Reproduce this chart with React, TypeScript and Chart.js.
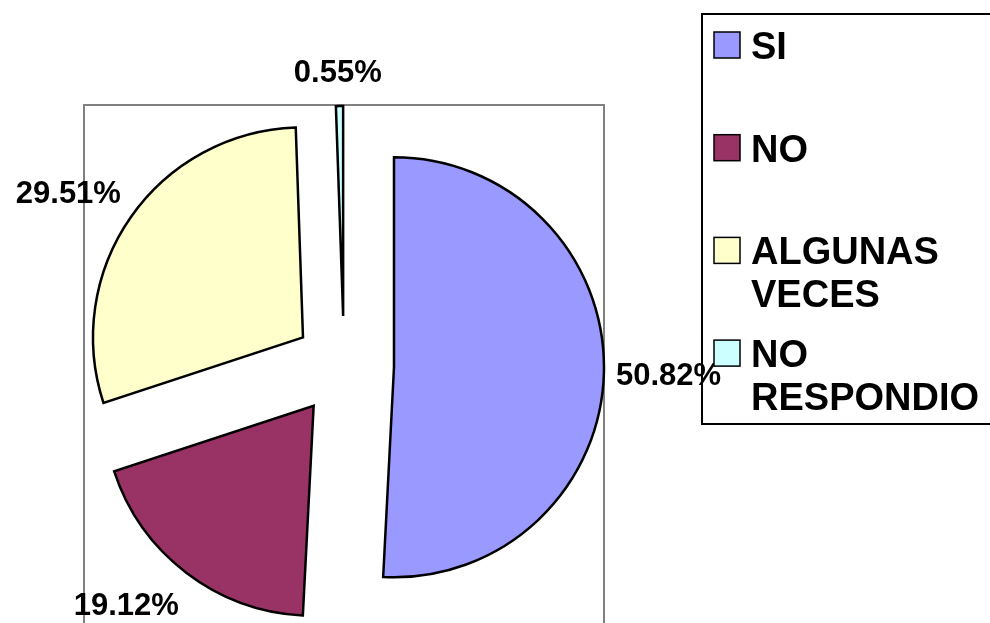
import React, { useEffect, useRef } from "react";
import { Chart, registerables } from "chart.js";

Chart.register(...registerables);

const categories = ["SI", "NO", "ALGUNAS VECES", "NO RESPONDIO"];
const values = [50.82, 19.12, 29.51, 0.55];
const valueLabels = ["50.82%", "19.12%", "29.51%", "0.55%"];
const colors = ["#9999FF", "#993366", "#FFFFCC", "#CCFFFF"];

const FONT = '"Liberation Sans", Arial, sans-serif';
const EXPLODE = 50;

const decorPlugin = {
  id: "decor",
  beforeDatasetsDraw(chart: any) {
    const meta = chart.getDatasetMeta(0);
    const arc = meta.data[0];
    if (!arc) return;
    const ctx = chart.ctx;
    const cx = arc.x;
    const cy = arc.y;
    const half = arc.outerRadius + EXPLODE;
    ctx.save();
    ctx.strokeStyle = "#808080";
    ctx.lineWidth = 2;
    ctx.strokeRect(cx - half, cy - half - 1, half * 2, half * 2 + 2);
    ctx.restore();
  },
  beforeDatasetDraw(chart: any, args: any) {
    const ctx = chart.ctx;
    args.meta.data.forEach((el: any) => {
      const mid = (el.startAngle + el.endAngle) / 2;
      ctx.save();
      ctx.translate(Math.cos(mid) * EXPLODE, Math.sin(mid) * EXPLODE);
      el.draw(ctx, chart.chartArea);
      ctx.restore();
    });
    return false;
  },
  afterDatasetsDraw(chart: any) {
    const meta = chart.getDatasetMeta(0);
    const ctx = chart.ctx;
    ctx.save();
    // value labels
    ctx.font = `bold 31px ${FONT}`;
    ctx.fillStyle = "#000";
    ctx.textAlign = "center";
    ctx.textBaseline = "middle";
    meta.data.forEach((el: any, i: number) => {
      const cx = el.x;
      const cy = el.y;
      const mid = (el.startAngle + el.endAngle) / 2;
      const dx = Math.cos(mid);
      const dy = Math.sin(mid);
      const text = valueLabels[i];
      const w = ctx.measureText(text).width;
      const h = 22;
      const R = el.outerRadius + EXPLODE;
      const x = cx + dx * (R + 12) + Math.sign(dx) * (w / 2) * Math.min(1, Math.abs(dx) * 2);
      const y = cy + 3 + dy * (R + 25) + Math.sign(dy) * (h / 2) * Math.min(1, Math.abs(dy) * 2);
      ctx.fillText(text, x, y);
    });
    // legend
    ctx.lineWidth = 2;
    ctx.strokeStyle = "#000";
    ctx.strokeRect(702, 14, 300, 410);
    ctx.font = `bold 38px ${FONT}`;
    ctx.textAlign = "left";
    ctx.textBaseline = "alphabetic";
    categories.forEach((c, i) => {
      const top = 32 + i * 102.7;
      ctx.fillStyle = colors[i];
      ctx.fillRect(714, top, 26, 26);
      ctx.lineWidth = 1.5;
      ctx.strokeRect(714, top, 26, 26);
      ctx.fillStyle = "#000";
      c.split(" ").forEach((line, j) => {
        ctx.fillText(line, 751, top + 27 + j * 43);
      });
    });
    ctx.restore();
  },
};

export default function App() {
  const ref = useRef<HTMLCanvasElement>(null);
  useEffect(() => {
    if (!ref.current) return;
    const chart = new Chart(ref.current, {
      type: "pie",
      data: {
        labels: categories,
        datasets: [
          {
            data: values,
            backgroundColor: colors,
            borderColor: "#000",
            borderWidth: 2.5,
            borderJoinStyle: "miter",
            offset: 0,
            hoverOffset: 0,
            radius: 210,
          } as any,
        ],
      },
      options: {
        responsive: false,
        animation: false,
        events: [],
        layout: { padding: { left: 0, right: 302, top: 109, bottom: 0 } },
        plugins: {
          legend: { display: false },
          tooltip: { enabled: false },
          title: { display: false },
        },
      },
      plugins: [decorPlugin],
    });
    return () => chart.destroy();
  }, []);
  return (
    <div style={{ position: "fixed", left: 0, top: 0, width: 990, height: 623, background: "#fff" }}>
      <canvas ref={ref} width={990} height={623} style={{ display: "block" }} />
    </div>
  );
}
